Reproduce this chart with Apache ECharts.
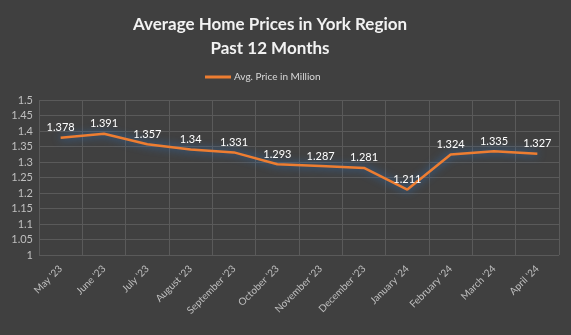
<!DOCTYPE html>
<html><head><meta charset="utf-8">
<script src="https://cdn.jsdelivr.net/npm/echarts@6/dist/echarts.min.js"></script>
<style>html,body{margin:0;padding:0;background:#404040;}#c{width:571px;height:335px;}</style>
</head><body><div id="c"></div>
<script>
const categories = ["May '23","June '23","July '23","August '23","September '23","October '23","November '23","December '23","January '24","February '24","March '24","April '24"];
const prices = [1.378,1.391,1.357,1.34,1.331,1.293,1.287,1.281,1.211,1.324,1.335,1.327];
const seriesName = "Avg. Price in Million";
const titleText = "Average Home Prices in York Region\nPast 12 Months";

const chart = echarts.init(document.getElementById('c'), null, {renderer:'canvas'});
chart.setOption({
  backgroundColor:'#404040',
  animation:false,
  title:{text:titleText,left:265,textAlign:'center',top:8,
    textStyle:{color:'#f2f2f2',fontFamily:'Lato',fontWeight:'bold',fontSize:17,lineHeight:24}},
  legend:{top:67,left:200,itemWidth:26,itemHeight:8,itemGap:4,
    icon:'path://M0,0 L26,0 L26,3 L0,3 Z',
    data:[{name:seriesName,itemStyle:{color:'#ED7D31'}}],
    textStyle:{color:'#d9d9d9',fontFamily:'Lato',fontSize:10,padding:[0,0,0,-2]}},
  grid:{left:39,right:12,top:100,bottom:80,containLabel:false},
  xAxis:{type:'category',data:categories,boundaryGap:true,
    axisLine:{show:false},axisTick:{show:false},
    splitLine:{show:true,lineStyle:{color:'#5a5a5a',width:1}},
    axisLabel:{rotate:45,color:'#bfbfbf',fontFamily:'Lato',fontSize:10,margin:12,interval:0}},
  yAxis:{type:'value',min:1,max:1.5,interval:0.05,
    axisLine:{show:false},axisTick:{show:false},
    splitLine:{lineStyle:{color:'#5a5a5a',width:1}},
    axisLabel:{color:'#bfbfbf',fontFamily:'Lato',fontSize:11,margin:6,
      formatter:v=>String(Math.round(v*100)/100)}},
  series:[{name:seriesName,type:'line',data:prices,symbol:'circle',symbolSize:1,showSymbol:true,
    lineStyle:{color:'#ED7D31',width:2.5,shadowColor:'#2f74c0',shadowBlur:9},
    itemStyle:{color:'rgba(0,0,0,0)'},
    label:{show:true,position:'top',distance:4,color:'#ffffff',fontFamily:'Lato',fontSize:11}}]
});
</script></body></html>
